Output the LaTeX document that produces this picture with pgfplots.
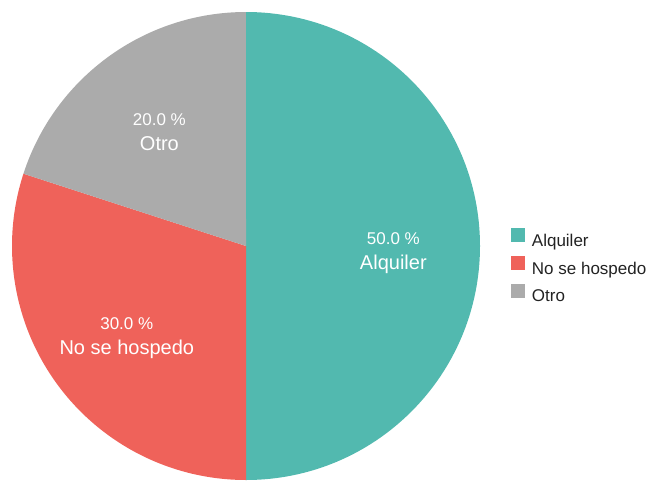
\documentclass[border=0pt]{standalone}
\usepackage{pgfplots}
\pgfplotsset{compat=1.18}
\usepackage{pgfplotstable}
\usepackage{fontspec}
\setmainfont{Liberation Sans}
\definecolor{pieteal}{HTML}{52B9AF}
\definecolor{piered}{HTML}{EF625A}
\definecolor{piegray}{HTML}{ABABAB}
\definecolor{legtext}{HTML}{222222}

\pgfplotstableread{
label value
Alquiler 50
{No se hospedo} 30
Otro 20
}\piedata

% slice values -> angles (clockwise from 12 o'clock)
\pgfplotstablegetelem{0}{value}\of\piedata \pgfmathsetmacro\va{\pgfplotsretval}
\pgfplotstablegetelem{1}{value}\of\piedata \pgfmathsetmacro\vb{\pgfplotsretval}
\pgfplotstablegetelem{2}{value}\of\piedata \pgfmathsetmacro\vc{\pgfplotsretval}
\pgfmathsetmacro\total{\va+\vb+\vc}
\pgfmathsetmacro\fa{\va/\total}
\pgfmathsetmacro\fb{\vb/\total}
\pgfmathsetmacro\fc{\vc/\total}
\pgfmathsetmacro\aA{90}
\pgfmathsetmacro\aB{\aA-360*\fa}
\pgfmathsetmacro\aC{\aB-360*\fb}
\pgfmathsetmacro\aD{\aC-360*\fc}
\pgfmathsetmacro\mA{(\aA+\aB)/2}
\pgfmathsetmacro\mB{(\aB+\aC)/2}
\pgfmathsetmacro\mC{(\aC+\aD)/2}
\pgfmathsetmacro\pA{100*\fa}
\pgfmathsetmacro\pB{100*\fb}
\pgfmathsetmacro\pC{100*\fc}

\newcommand\pct[1]{{\fontsize{12.75}{15}\selectfont\pgfmathprintnumber[fixed,fixed zerofill,precision=1,assume math mode=true]{#1} \%}}
\newcommand\nm[1]{{\fontsize{15}{18}\selectfont #1}}
\def\R{175.5pt}
\def\L{110.5pt}

\begin{document}
\begin{tikzpicture}
\useasboundingbox (0,0) rectangle (487.5pt,360pt);
\begin{axis}[
    at={(0,0)}, anchor=south west,
    scale only axis, width=487.5pt, height=360pt,
    xmin=0, xmax=650, ymin=0, ymax=480,
    hide axis,
    legend style={at={(axis cs:507,255)}, anchor=north west, draw=none, fill=none,
        font=\fontsize{12.75}{15}\selectfont, text=legtext, row sep=5.5pt,
        column sep=5pt, nodes={inner sep=0pt}},
    legend cell align=left,
    legend image code/.code={\fill[#1, draw=none] (0pt,-0.5pt) rectangle (10.5pt,10pt);},
]
\addlegendimage{fill=pieteal}
\addlegendentry{Alquiler}
\addlegendimage{fill=piered}
\addlegendentry{No se hospedo}
\addlegendimage{fill=piegray}
\addlegendentry{Otro}

\fill[pieteal] (axis cs:246,234) -- ++(\aA:\R) arc[start angle=\aA, end angle=\aB, radius=\R] -- cycle;
\fill[piered] (axis cs:246,234) -- ++(\aB:\R) arc[start angle=\aB, end angle=\aC, radius=\R] -- cycle;
\fill[piegray] (axis cs:246,234) -- ++(\aC:\R) arc[start angle=\aC, end angle=\aD, radius=\R] -- cycle;

\path (axis cs:246,234) ++(\mA:\L) node[white, align=center, yshift=-5.5pt] {\pct{\pA}\\[6.5pt]\nm{Alquiler}};
\path (axis cs:246,234) ++(\mB:\L) node[white, align=center, yshift=-4pt] {\pct{\pB}\\[6.5pt]\nm{No se hospedo}};
\path (axis cs:246,234) ++(\mC:\L) node[white, align=center, yshift=-4pt] {\pct{\pC}\\[6.5pt]\nm{Otro}};
\end{axis}
\end{tikzpicture}
\end{document}
